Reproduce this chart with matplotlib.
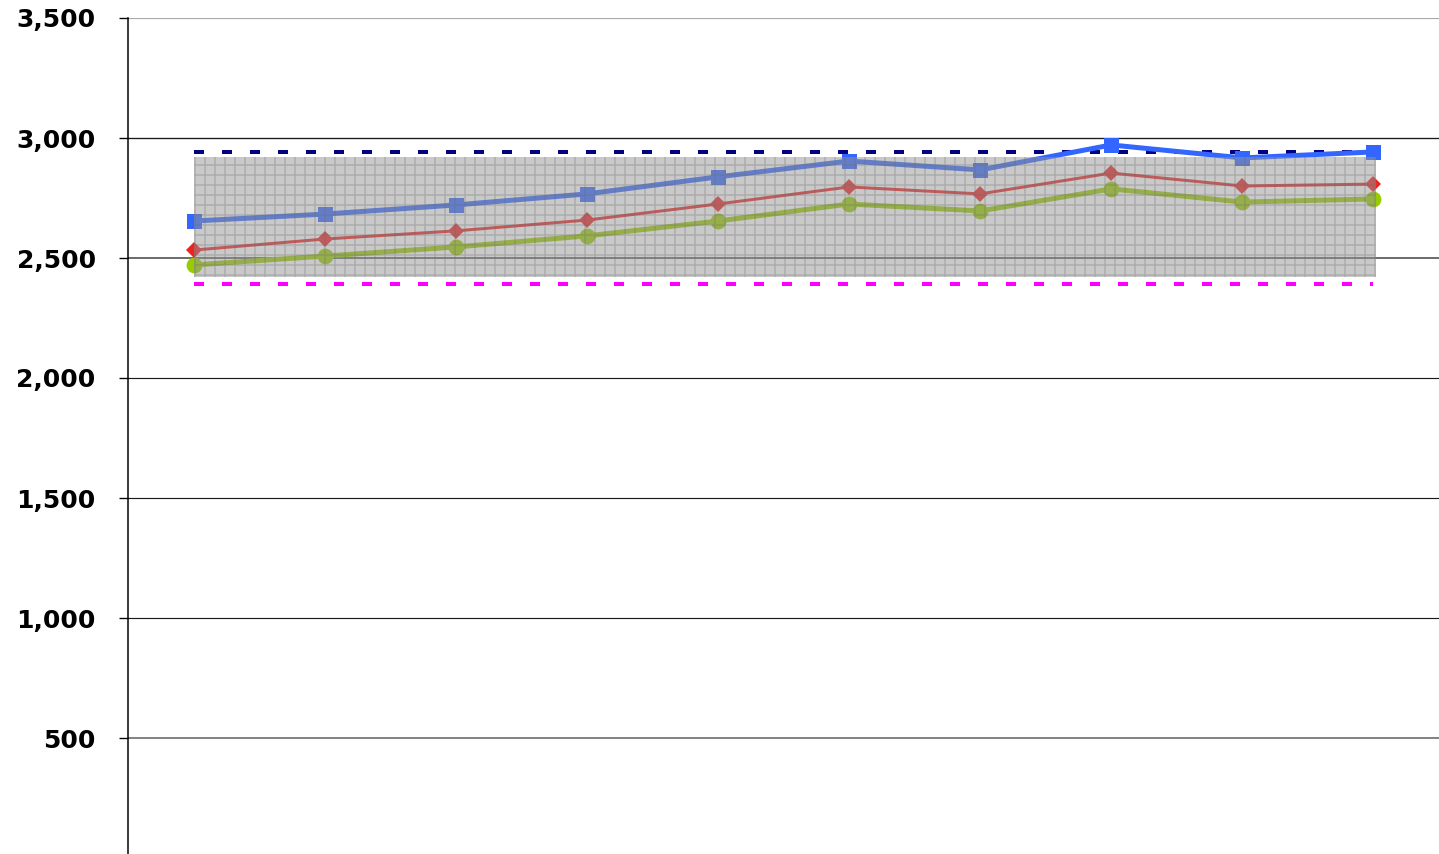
import matplotlib
matplotlib.use("Agg")
import matplotlib.pyplot as plt
import numpy as np

# Ten sampling periods
periods = ["P1", "P2", "P3", "P4", "P5", "P6", "P7", "P8", "P9", "P10"]

# Measured series
series_high = [2654, 2683, 2721, 2767, 2838, 2904, 2867, 2971, 2917, 2942]
series_mid = [2533, 2579, 2613, 2658, 2725, 2796, 2767, 2854, 2800, 2808]
series_low = [2471, 2508, 2546, 2592, 2654, 2725, 2696, 2788, 2733, 2746]

# Control limits and target band
upper_limit = 2942
lower_limit = 2392
band_low = 2421
band_high = 2921

y_ticks = [500, 1000, 1500, 2000, 2500, 3000, 3500]
y_tick_labels = ["500", "1,000", "1,500", "2,000", "2,500", "3,000", "3,500"]
grid_colors = ["#7a7a7a", "#1a1a1a", "#1a1a1a", "#1a1a1a", "#6e6e6e", "#1a1a1a", "#a8a8a8"]
grid_widths = [1.1, 0.7, 0.7, 0.7, 1.2, 0.8, 1.3]

plt.rcParams["hatch.linewidth"] = 0.9

DPI = 120
fig = plt.figure(figsize=(1439 / DPI, 854 / DPI), dpi=DPI)
fig.patch.set_facecolor("white")
ax = fig.add_axes([128 / 1439, -4 / 854, 1311 / 1439, 840 / 854])

x = np.arange(len(periods))
ax.set_xlim(-0.5, len(periods) - 0.5)
ax.set_ylim(0, 3500)

# Horizontal gridlines
for v, c, w in zip(y_ticks, grid_colors, grid_widths):
    ax.axhline(v, color=c, linewidth=w, zorder=0.5)

# Limit lines
ax.plot([x[0], x[-1]], [upper_limit] * 2, color="#000080", linewidth=2.4,
        dashes=(2.5, 4.5), solid_capstyle="butt", dash_capstyle="butt", zorder=2)
ax.plot([x[0], x[-1]], [lower_limit] * 2, color="#FF00FF", linewidth=2.4,
        dashes=(2.5, 4.5), solid_capstyle="butt", dash_capstyle="butt", zorder=2)

# Series
ax.plot(x, series_low, color="#99CC00", linewidth=3.0, marker="o",
        markersize=9.5, markeredgewidth=0, zorder=2.2)
ax.plot(x, series_mid, color="#EE2222", linewidth=1.8, marker="D",
        markersize=7.2, markeredgewidth=0, zorder=2.3)
ax.plot(x, series_high, color="#3366FF", linewidth=3.0, marker="s",
        markersize=9, markeredgewidth=0, zorder=2.4)

# Shaded target band, drawn over the series
ax.fill_between([x[0], x[-1] + 0.02], band_low, band_high,
                facecolor=(0.58, 0.58, 0.58, 0.5),
                edgecolor=(0.42, 0.42, 0.42, 0.3),
                hatch="++", linewidth=0, zorder=3)

# Axes styling
for side in ["top", "right", "bottom"]:
    ax.spines[side].set_visible(False)
ax.spines["left"].set_linewidth(0.9)
ax.spines["left"].set_color("black")
ax.set_xticks([])
ax.set_yticks(y_ticks)
ax.set_yticklabels(y_tick_labels, fontsize=15, fontweight="bold",
                   family="DejaVu Sans")
ax.tick_params(axis="y", direction="out", length=5.4, width=0.8,
               color="black", pad=14)
ax.set_facecolor("white")

fig.savefig("out.png", dpi=DPI)
